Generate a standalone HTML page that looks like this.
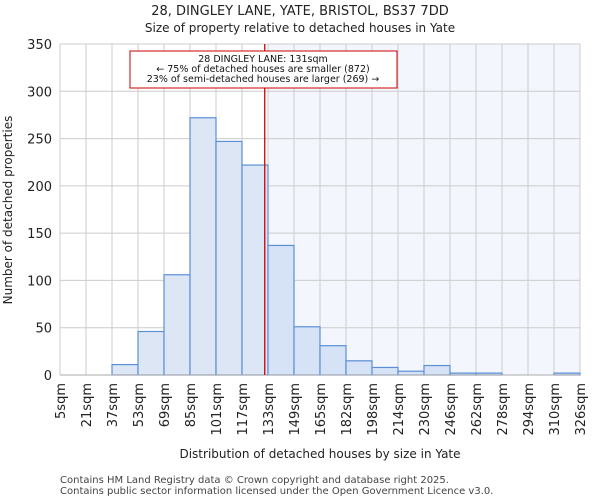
<!DOCTYPE html>
<html><head><meta charset="utf-8"><style>
body{margin:0;background:#fff;font-family:"DejaVu Sans","Liberation Sans",sans-serif}
</style></head><body>
<svg width="600" height="500" xmlns="http://www.w3.org/2000/svg" font-family="DejaVu Sans, Liberation Sans, sans-serif">
<text x="300" y="15" text-anchor="middle" font-size="13" fill="#222">28, DINGLEY LANE, YATE, BRISTOL, BS37 7DD</text>
<text x="300" y="32" text-anchor="middle" font-size="12" fill="#222">Size of property relative to detached houses in Yate</text>
<g id="plot"></g>
<text x="320" y="458" text-anchor="middle" font-size="12" fill="#222">Distribution of detached houses by size in Yate</text>
<text transform="translate(12,210) rotate(-90)" text-anchor="middle" font-size="12" fill="#222">Number of detached properties</text>
<text x="60" y="483" font-size="10" fill="#444">Contains HM Land Registry data © Crown copyright and database right 2025.</text>
<text x="60" y="494" font-size="10" fill="#444">Contains public sector information licensed under the Open Government Licence v3.0.</text>
</svg>
<script>
const binLabels=["5sqm","21sqm","37sqm","53sqm","69sqm","85sqm","101sqm","117sqm","133sqm","149sqm","165sqm","182sqm","198sqm","214sqm","230sqm","246sqm","262sqm","278sqm","294sqm","310sqm","326sqm"];
const counts=[0,0,11,46,106,272,247,222,137,51,31,15,8,4,10,2,2,0,0,2];
const yTicks=[0,50,100,150,200,250,300,350];
const markerBin=7, markerFrac=0.875, shadeFromBin=8;
const L=60,R=580,T=44,B=375,ymax=350;
const ns="http://www.w3.org/2000/svg",g=document.getElementById('plot');
const n=counts.length,bw=(R-L)/n;
const xs=i=>L+i*bw, ys=v=>B-(B-T)*v/ymax;
function mk(t,a,p){const e=document.createElementNS(ns,t);for(const k in a)e.setAttribute(k,a[k]);(p||g).appendChild(e);return e;}
let sh=mk('rect',{x:xs(shadeFromBin),y:T,width:R-xs(shadeFromBin),height:B-T,fill:'#f3f6fd'});


yTicks.forEach(v=>{let l=mk('line',{x1:L,x2:R,y1:ys(v),y2:ys(v),stroke:'#ccc'});


let t=mk('text',{x:L-8,y:ys(v)+5,'text-anchor':'end','font-size':13,fill:'#222'});t.textContent=v;

});
binLabels.forEach((s,i)=>{let l=mk('line',{x1:xs(i),x2:xs(i),y1:T,y2:B,stroke:'#ccc'});


let t=mk('text',{transform:`translate(${xs(i)+5},${B+8}) rotate(-90)`,'text-anchor':'end','font-size':13,fill:'#222'});t.textContent=s;

});
counts.forEach((v,i)=>{if(!v)return;let r=mk('rect',{x:xs(i),y:ys(v),width:bw,height:B-ys(v),fill:i>=shadeFromBin?'#d6e2f5':'#dce6f5',stroke:'#5b8fd6','stroke-width':1.2});

});
let ax=mk('line',{x1:L,x2:R,y1:B,y2:B,stroke:'#aaa'});


const mx=xs(markerBin)+bw*markerFrac;
let ml=mk('line',{x1:mx,x2:mx,y1:T,y2:B,stroke:'#cc0000','stroke-width':1.3});


let bx=mk('rect',{x:130,y:51,width:267,height:37,fill:'#fff',stroke:'#cc0000'});


["28 DINGLEY LANE: 131sqm","← 75% of detached houses are smaller (872)","23% of semi-detached houses are larger (269) →"].forEach((s,i)=>{let t=mk('text',{x:263,y:62+i*10,'text-anchor':'middle','font-size':9.5,fill:'#111'});t.textContent=s;

});
</script>
</body></html>
